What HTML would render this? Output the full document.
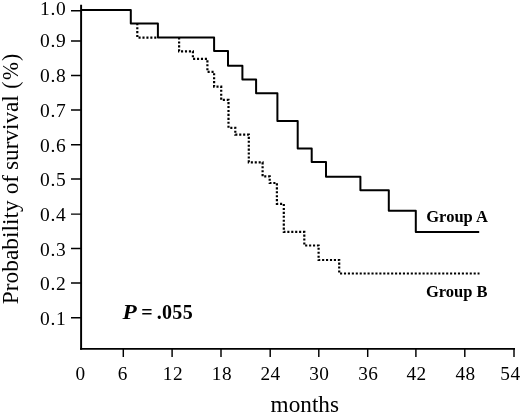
<!DOCTYPE html>
<html>
<head>
<meta charset="utf-8">
<title>Survival</title>
<style>
html,body{margin:0;padding:0;background:#fff;}
body{width:520px;height:413px;overflow:hidden;position:relative;}
svg{position:absolute;left:0;top:0;display:block;}
text{font-family:"Liberation Serif","Times New Roman",serif;fill:#000;}
.tk{font-size:20px;}
.b{font-weight:bold;}
</style>
</head>
<body>
<svg width="520" height="413" viewBox="0 0 520 413">
<rect x="0" y="0" width="520" height="413" fill="#fff"/>
<!-- axes -->
<g stroke="#000" fill="none">
<path stroke-width="1.95" d="M81.1 4.8V349.7"/>
<path stroke-width="1.8" d="M80.1 348.8H515"/>
<!-- y ticks -->
<path stroke-width="1.45" d="M71 10.7H81M71 41H81M71 75.5H81M71 110H81M71 144.8H81M71 178.9H81M71 214.1H81M71 248.5H81M71 282.9H81M71 317.7H81"/>
<!-- x ticks -->
<path stroke-width="1.45" d="M123.3 348V357M172.1 348V357M221 348V357M270.2 348V357M318.8 348V357M367.7 348V357M415.9 348V357M464.8 348V357M514 348V357"/>
</g>
<!-- curve A -->
<path fill="none" stroke="#000" stroke-width="2" stroke-linejoin="round" d="M81 10H130.8V23.4H157.9V37.5H214.1V51.1H228V65.8H242.4V79.4H256.1V93.3H277.4V121.1H297.7V148.6H311.7V162.1H326V176.7H360.4V190.2H388.8V210.8H415.8V232H479.2"/>
<!-- curve B -->
<path fill="none" stroke="#000" stroke-width="2.2" stroke-dasharray="2.1 1.83" d="M137.3 23.2V37.7H157.9M179.1 37.5V51.3H192.9V58.9H207.4V71.9H214.1V86.6H221.2V99.9H228.5V127.8H235.3V134.6H248.8V162.3H262.6V176.4H269.7V183H276.9V203.8H283.8V231.9H304.3V245.5H318.6V260H339.2V273.5H479.5"/>
<!-- y tick labels -->
<g font-size="19.5" text-anchor="end" letter-spacing="0.75">
<text x="66.6" y="14.7">1.0</text>
<text x="66.6" y="47.3">0.9</text>
<text x="66.6" y="82">0.8</text>
<text x="66.6" y="117">0.7</text>
<text x="66.6" y="151.8">0.6</text>
<text x="66.6" y="185.8">0.5</text>
<text x="66.6" y="221">0.4</text>
<text x="66.6" y="255.5">0.3</text>
<text x="66.6" y="289.9">0.2</text>
<text x="66.6" y="324.6">0.1</text>
</g>
<!-- x tick labels -->
<g font-size="19.3" text-anchor="middle" letter-spacing="0.4">
<text x="80.6" y="379.7">0</text>
<text x="122.7" y="379.7">6</text>
<text x="172.9" y="379.7">12</text>
<text x="221.9" y="379.7">18</text>
<text x="270.6" y="379.7">24</text>
<text x="319.3" y="379.7">30</text>
<text x="368.2" y="379.7">36</text>
<text x="416.6" y="379.7">42</text>
<text x="465.5" y="379.7">48</text>
<text x="510.4" y="379.7">54</text>
</g>
<text x="304.8" y="411.7" text-anchor="middle" font-size="23" textLength="68.4" lengthAdjust="spacingAndGlyphs">months</text>
<g transform="translate(17.7 304.3) rotate(-90) scale(0.975 1)" font-size="24">
<text x="0" y="0">Probability</text>
<text x="112.8" y="0">of</text>
<text transform="translate(137.85 0) scale(0.99 1)" x="0" y="0">survival</text>
<text transform="translate(222.6 0) scale(0.92 1)" y="0"><tspan x="-1.7">(</tspan><tspan x="8">%</tspan><tspan x="29.3">)</tspan></text>
</g>
<g font-size="20" class="b"><text x="122.6" y="318.8" font-style="italic" textLength="14.3" lengthAdjust="spacingAndGlyphs">P</text><text x="141.35" y="318.8">=</text><text x="156.75" y="318.8" letter-spacing="0.3">.055</text></g>
<text x="426.2" y="221.7" font-size="16.5" class="b" textLength="61.8" lengthAdjust="spacing">Group A</text>
<text x="425.9" y="296.6" font-size="16.5" class="b" textLength="61.7" lengthAdjust="spacing">Group B</text>
</svg>
</body>
</html>
